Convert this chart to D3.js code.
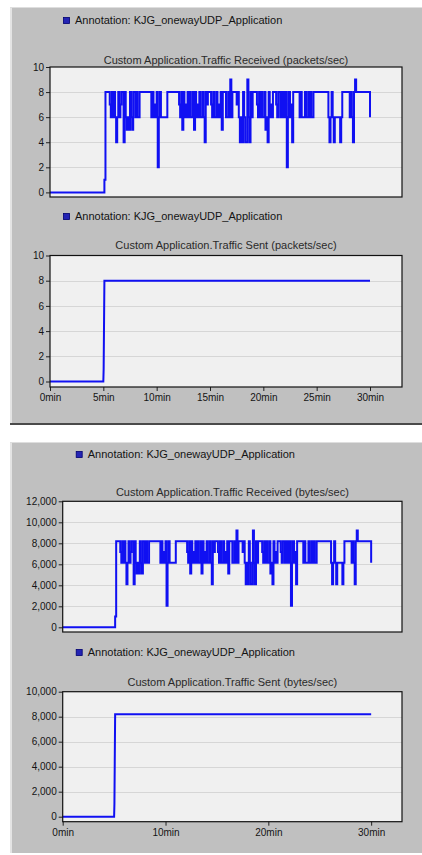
<!DOCTYPE html>
<html>
<head>
<meta charset="utf-8">
<script src="https://cdn.jsdelivr.net/npm/d3@7"></script>
<style>
  html, body { margin: 0; padding: 0; background: #ffffff; }
  svg { display: block; }
  text { font-family: "Liberation Sans", Arial, sans-serif; fill: #141414; }
</style>
</head>
<body>
<svg id="chart" width="422" height="855"></svg>
<script>
// ---- data ---------------------------------------------------------------
const legendLabel = "Annotation: KJG_onewayUDP_Application";
const titlePacketsReceived = "Custom Application.Traffic Received (packets/sec)";
const titlePacketsSent = "Custom Application.Traffic Sent (packets/sec)";
const titleBytesReceived = "Custom Application.Traffic Received (bytes/sec)";
const titleBytesSent = "Custom Application.Traffic Sent (bytes/sec)";

// received traffic: one sample every 0.1 min starting at 5.0 min (packets/sec)
const sampleStartMin = 5.0;
const sampleStepMin = 0.1;
const receivedPackets = [
  0, 1, 8, 8, 8, 8, 7, 6, 8, 6,
  8, 6, 4, 6, 8, 6, 7, 8, 8, 4,
  8, 6, 5, 6, 5, 8, 6, 5, 8, 8,
  6, 8, 6, 6, 8, 8, 8, 8, 8, 8,
  8, 8, 8, 8, 8, 6, 8, 6, 7, 6,
  8, 2, 6, 8, 6, 6, 6, 6, 6, 6,
  8, 8, 8, 8, 8, 8, 8, 8, 8, 8,
  8, 7, 6, 8, 5, 8, 6, 7, 6, 8,
  6, 8, 6, 6, 8, 5, 8, 6, 7, 6,
  8, 6, 6, 8, 6, 4, 8, 7, 8, 8,
  8, 7, 6, 8, 6, 6, 8, 6, 7, 6,
  8, 5, 8, 8, 8, 6, 6, 8, 6, 9,
  6, 8, 8, 8, 8, 7, 8, 6, 4, 6,
  4, 8, 6, 4, 4, 9, 6, 4, 8, 6,
  8, 8, 8, 8, 7, 6, 8, 6, 8, 6,
  6, 8, 5, 6, 4, 8, 6, 7, 6, 8,
  8, 8, 7, 6, 8, 8, 6, 8, 6, 8,
  6, 8, 2, 6, 8, 6, 7, 4, 8, 8,
  8, 8, 8, 8, 6, 8, 6, 6, 6, 8,
  6, 6, 8, 6, 8, 6, 6, 8, 8, 8,
  8, 8, 8, 8, 8, 8, 8, 8, 8, 8,
  8, 6, 4, 6, 8, 6, 4, 6, 6, 6,
  6, 6, 4, 6, 8, 8, 8, 8, 8, 8,
  8, 6, 8, 6, 4, 8, 9, 8, 8, 8,
  8, 8, 8, 8, 8, 8, 8, 8, 8, 8, 6
];
// idle period before the application starts
const idleTimes = [0];
const idlePackets = [0];

// sent traffic (packets/sec)
const sentTimes = [0, 5.0, 5.03, 5.1, 30];
const sentPackets = [0, 0, 1, 8, 8];

// each application packet carries 1024 bytes
const bytesPerPacket = 1024;

// axis ticks
const packetTicks = [0, 2, 4, 6, 8, 10];
const bytesReceivedTicks = [0, 2000, 4000, 6000, 8000, 10000, 12000];
const bytesSentTicks = [0, 2000, 4000, 6000, 8000, 10000];
const minuteTicksFine = [0, 5, 10, 15, 20, 25, 30];
const minuteTicksCoarse = [0, 10, 20, 30];

// ---- series ---------------------------------------------------------------
const receivedSeries = idleTimes.map((t, i) => ({ t, v: idlePackets[i] }))
  .concat(receivedPackets.map((v, i) => ({ t: sampleStartMin + i * sampleStepMin, v })));
const sentSeries = sentTimes.map((t, i) => ({ t, v: sentPackets[i] }));
const toBytes = s => s.map(d => ({ t: d.t, v: d.v * bytesPerPacket }));

// ---- drawing ----------------------------------------------------------------
const svg = d3.select("#chart");
const panelFill = "#c0c0c0";
const plotFill = "#f0f0f0";
const gridColor = "#d6d6d6";
const lineColor = "#1010f2";

function panel(x0, y0, x1, y1, bottomEdge) {
  svg.append("rect").attr("x", x0).attr("y", y0)
    .attr("width", x1 - x0).attr("height", y1 - y0).attr("fill", panelFill);
  svg.append("rect").attr("x", x0).attr("y", y0)
    .attr("width", 2).attr("height", y1 - y0).attr("fill", "#e4e4e4");
  svg.append("rect").attr("x", x0).attr("y", y0)
    .attr("width", x1 - x0).attr("height", 1).attr("fill", "#dedede");
  if (bottomEdge) {
    svg.append("rect").attr("x", x0).attr("y", y1 - 2)
      .attr("width", x1 - x0).attr("height", 2).attr("fill", "#4a4a4a");
  }
}

function chart(cfg) {
  const x = d3.scaleLinear().domain([0, 33]).range([cfg.left, cfg.right]);
  const y = d3.scaleLinear().domain([0, cfg.yMax]).range([cfg.zeroY, cfg.top]);
  const g = svg.append("g");

  // legend
  g.append("rect").attr("x", cfg.left + 13.5).attr("y", cfg.legendY - 6.5)
    .attr("width", 6).attr("height", 6)
    .attr("fill", "#2424b4").attr("stroke", "#000070").attr("stroke-width", 0.8);
  g.append("text").attr("x", cfg.left + 25).attr("y", cfg.legendY)
    .attr("font-size", "11px").text(legendLabel);

  // title
  g.append("text").attr("x", (cfg.left + cfg.right) / 2).attr("y", cfg.titleY)
    .attr("text-anchor", "middle").attr("font-size", "11px")
    .style("fill", "#2a2a2a").text(cfg.title);

  // plot background and grid
  g.append("rect").attr("x", cfg.left).attr("y", cfg.top)
    .attr("width", cfg.right - cfg.left).attr("height", cfg.bottom - cfg.top)
    .attr("fill", plotFill);
  g.selectAll("line.grid").data(cfg.yTicks.filter(v => v > 0 && v < cfg.yMax))
    .join("line").attr("class", "grid")
    .attr("x1", cfg.left).attr("x2", cfg.right)
    .attr("y1", d => Math.round(y(d)) + 0.5).attr("y2", d => Math.round(y(d)) + 0.5)
    .attr("stroke", gridColor).attr("stroke-width", 1);

  // y axis
  const yAxis = d3.axisLeft(y).tickValues(cfg.yTicks).tickSize(4).tickPadding(2)
    .tickFormat(cfg.yFormat);
  const ya = g.append("g").attr("transform", `translate(${cfg.left},0)`).call(yAxis);
  ya.select(".domain").remove();
  ya.selectAll(".tick line").attr("stroke", "#202020");
  ya.selectAll(".tick text").attr("font-size", "10px")
    .attr("font-family", "Liberation Sans, Arial, sans-serif").attr("fill", "#141414");

  // x axis (only on the "sent" charts)
  if (cfg.xTicks) {
    const xAxis = d3.axisBottom(x).tickValues(cfg.xTicks).tickSize(4).tickPadding(3)
      .tickFormat(d => d + "min");
    const xa = g.append("g").attr("transform", `translate(0,${cfg.bottom})`).call(xAxis);
    xa.select(".domain").remove();
    xa.selectAll(".tick line").attr("stroke", "#202020");
    xa.selectAll(".tick text").attr("font-size", "10px")
      .attr("font-family", "Liberation Sans, Arial, sans-serif").attr("fill", "#141414");
  }

  // series
  const line = d3.line().x(d => x(d.t)).y(d => y(d.v))
    .curve(cfg.stepped ? d3.curveStepAfter : d3.curveLinear);
  g.append("path").datum(cfg.series).attr("d", line)
    .attr("fill", "none").attr("stroke", lineColor).attr("stroke-width", 2)
    .attr("stroke-linejoin", "miter");

  // frame
  g.append("rect").attr("x", cfg.left).attr("y", cfg.top)
    .attr("width", cfg.right - cfg.left).attr("height", cfg.bottom - cfg.top)
    .attr("fill", "none").attr("stroke", "#111").attr("stroke-width", 1.2);
}

panel(10, 7, 422, 425, true);
panel(10, 442, 422, 853, false);

chart({ title: titlePacketsReceived, legendY: 24, titleY: 64,
  left: 50, right: 402, top: 67, zeroY: 192.4, bottom: 197,
  yMax: 10, yTicks: packetTicks, yFormat: d3.format("d"),
  series: receivedSeries, stepped: true });

chart({ title: titlePacketsSent, legendY: 220, titleY: 249,
  left: 50, right: 402, top: 255.5, zeroY: 381.5, bottom: 387,
  yMax: 10, yTicks: packetTicks, yFormat: d3.format("d"),
  xTicks: minuteTicksFine, series: sentSeries });

chart({ title: titleBytesReceived, legendY: 458, titleY: 496,
  left: 62.7, right: 402, top: 501.3, zeroY: 627.3, bottom: 632,
  yMax: 12000, yTicks: bytesReceivedTicks, yFormat: d3.format(","),
  series: toBytes(receivedSeries), stepped: true });

chart({ title: titleBytesSent, legendY: 656, titleY: 686,
  left: 62.7, right: 402, top: 691.7, zeroY: 816.7, bottom: 821.7,
  yMax: 10000, yTicks: bytesSentTicks, yFormat: d3.format(","),
  xTicks: minuteTicksCoarse, series: toBytes(sentSeries) });
</script>
</body>
</html>
